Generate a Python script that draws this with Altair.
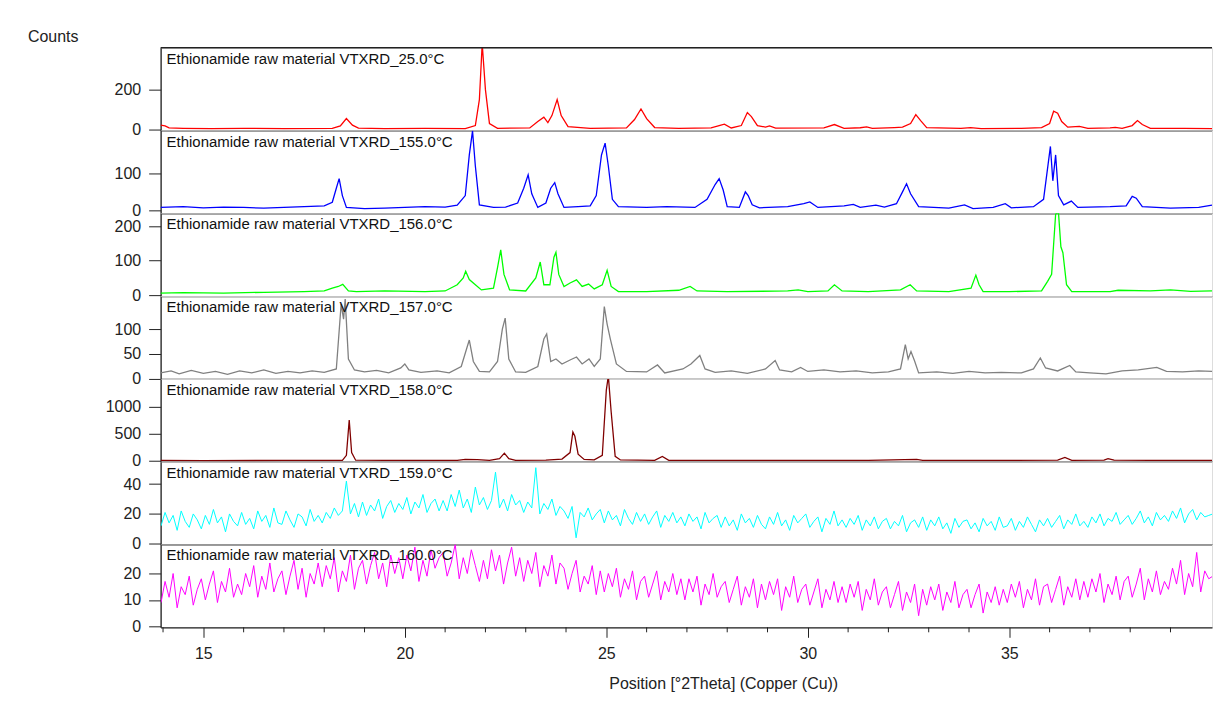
import altair as alt
import pandas as pd

# ---------------- data (2theta, counts) ----------------
red_25 = [(13.94, 22), (14.05, 18), (14.15, 8), (14.5, 6), (15.2, 5), (16.0, 6), (17.0, 5), (18.2, 6),
          (18.4, 18), (18.55, 55), (18.7, 22), (18.85, 7), (19.5, 5), (20.5, 6), (21.5, 5), (21.75, 20),
          (21.85, 150), (21.92, 430), (22.0, 200), (22.1, 30), (22.3, 6), (23.1, 8), (23.3, 40), (23.45, 62),
          (23.55, 35), (23.65, 70), (23.78, 150), (23.88, 70), (24.05, 15), (24.6, 6), (25.5, 8), (25.7, 50),
          (25.86, 103), (26.0, 55), (26.2, 10), (26.8, 6), (27.6, 8), (27.8, 20), (27.93, 27), (28.1, 8),
          (28.35, 20), (28.5, 85), (28.6, 65), (28.75, 20), (28.95, 12), (29.05, 18), (29.2, 7), (30.4, 8),
          (30.66, 25), (30.9, 6), (31.3, 9), (31.46, 13), (31.6, 6), (32.15, 10), (32.35, 12), (32.55, 30),
          (32.68, 75), (32.8, 45), (32.95, 10), (33.8, 6), (34.04, 10), (34.3, 5), (35.3, 6), (35.8, 10),
          (36.0, 30), (36.1, 92), (36.2, 82), (36.3, 40), (36.45, 12), (36.74, 16), (36.95, 6), (37.5, 8),
          (37.63, 11), (37.8, 6), (38.05, 20), (38.18, 45), (38.3, 25), (38.5, 6), (39.34, 6), (40.03, 5)]

blue_155 = [(13.94, 8), (14.5, 10), (15.0, 7), (15.5, 9), (16.0, 8), (16.5, 6), (17.0, 8), (17.5, 10),
            (18.0, 12), (18.2, 22), (18.3, 60), (18.37, 86), (18.45, 40), (18.55, 8), (19.0, 5), (19.5, 6),
            (20.0, 8), (20.5, 10), (21.0, 9), (21.3, 14), (21.5, 40), (21.6, 150), (21.68, 215), (21.75, 120),
            (21.85, 15), (22.2, 8), (22.5, 9), (22.8, 20), (22.95, 60), (23.06, 96), (23.15, 45), (23.3, 8),
            (23.5, 20), (23.62, 60), (23.72, 75), (23.8, 45), (23.95, 8), (24.3, 10), (24.6, 12), (24.75, 40),
            (24.88, 150), (24.97, 182), (25.05, 120), (25.15, 30), (25.3, 10), (26.0, 8), (26.5, 10), (27.2, 8),
            (27.5, 30), (27.7, 70), (27.8, 86), (27.9, 55), (28.0, 10), (28.3, 8), (28.45, 50), (28.52, 40),
            (28.62, 15), (28.8, 7), (29.5, 10), (29.9, 18), (30.05, 23), (30.25, 8), (30.9, 12), (31.13, 16),
            (31.3, 8), (31.69, 14), (31.9, 9), (32.2, 18), (32.35, 50), (32.45, 72), (32.55, 45), (32.75, 10),
            (33.5, 6), (33.89, 15), (34.1, 5), (34.6, 8), (34.9, 18), (35.05, 7), (35.6, 10), (35.85, 30),
            (36.02, 173), (36.08, 80), (36.15, 150), (36.22, 40), (36.35, 15), (36.54, 25), (36.7, 8), (37.5, 10),
            (37.9, 12), (38.05, 38), (38.15, 33), (38.3, 10), (39.0, 6), (39.7, 8), (40.03, 14)]

green_156 = [(13.94, 6), (14.5, 7), (15.5, 6), (16.5, 8), (17.5, 10), (18.0, 12), (18.2, 20), (18.35, 25),
             (18.46, 31), (18.6, 12), (18.8, 10), (19.5, 12), (20.5, 10), (21.0, 12), (21.3, 30), (21.45, 50),
             (21.51, 69), (21.6, 45), (21.75, 30), (21.9, 15), (22.2, 20), (22.3, 80), (22.38, 131), (22.46, 60),
             (22.6, 15), (23.0, 12), (23.25, 50), (23.36, 96), (23.45, 30), (23.6, 30), (23.7, 110), (23.75, 124),
             (23.82, 60), (23.95, 25), (24.1, 35), (24.26, 44), (24.4, 25), (24.56, 32), (24.7, 18), (24.9, 30),
             (25.02, 72), (25.12, 25), (25.3, 10), (26.0, 10), (26.8, 14), (27.08, 25), (27.25, 12), (28.0, 10),
             (29.5, 12), (29.76, 15), (30.0, 10), (30.5, 12), (30.66, 30), (30.85, 12), (31.5, 10), (32.3, 15),
             (32.54, 30), (32.7, 12), (33.5, 10), (34.05, 20), (34.17, 58), (34.25, 30), (34.35, 10), (35.0, 10),
             (35.8, 12), (35.95, 40), (36.05, 60), (36.15, 235), (36.22, 240), (36.28, 140), (36.33, 123),
             (36.42, 30), (36.55, 10), (37.5, 10), (37.7, 14), (38.5, 12), (39.0, 15), (39.5, 11), (40.03, 12)]

gray_157 = [(13.94, 12), (14.2, 16), (14.4, 10), (14.7, 17), (15.0, 11), (15.3, 15), (15.6, 9), (15.9, 16),
            (16.2, 12), (16.5, 18), (16.8, 11), (17.1, 15), (17.4, 12), (17.7, 16), (18.0, 13), (18.3, 20),
            (18.42, 150), (18.48, 120), (18.52, 160), (18.6, 40), (18.75, 18), (19.0, 14), (19.3, 17), (19.6, 12),
            (19.9, 22), (20.0, 30), (20.1, 18), (20.4, 13), (20.8, 16), (21.1, 12), (21.4, 25), (21.55, 65),
            (21.6, 78), (21.7, 35), (21.85, 15), (22.1, 14), (22.3, 35), (22.42, 100), (22.49, 122), (22.58, 40),
            (22.75, 14), (23.0, 13), (23.3, 25), (23.45, 80), (23.52, 90), (23.62, 35), (23.75, 40), (23.9, 30),
            (24.1, 38), (24.26, 44), (24.4, 30), (24.57, 40), (24.7, 25), (24.85, 40), (24.95, 145), (25.02, 110),
            (25.1, 80), (25.25, 30), (25.5, 15), (26.0, 14), (26.27, 28), (26.45, 12), (26.9, 20), (27.1, 30),
            (27.32, 47), (27.45, 20), (27.7, 13), (28.1, 16), (28.5, 11), (28.95, 20), (29.19, 37), (29.3, 18),
            (29.6, 14), (29.82, 23), (30.0, 15), (30.4, 18), (30.8, 14), (31.2, 16), (31.6, 12), (32.0, 14),
            (32.3, 20), (32.42, 69), (32.49, 40), (32.56, 55), (32.65, 36), (32.75, 12), (33.2, 14), (33.6, 11),
            (34.0, 15), (34.4, 12), (34.8, 13), (35.3, 12), (35.6, 20), (35.77, 42), (35.9, 22), (36.2, 16),
            (36.5, 27), (36.65, 14), (37.0, 12), (37.4, 10), (37.8, 16), (38.2, 18), (38.66, 23), (38.9, 15),
            (39.3, 14), (39.7, 16), (40.03, 15)]

darkred_158 = [(13.94, 5), (15.0, 4), (17.0, 5), (18.45, 5), (18.55, 100), (18.62, 750), (18.68, 150),
               (18.78, 10), (19.5, 5), (20.5, 6), (21.3, 8), (21.5, 25), (21.8, 20), (22.1, 8), (22.35, 40),
               (22.47, 140), (22.58, 40), (22.75, 8), (23.5, 10), (23.9, 30), (24.1, 150), (24.17, 530),
               (24.22, 450), (24.3, 120), (24.45, 25), (24.7, 15), (24.9, 100), (25.0, 1300), (25.05, 1560),
               (25.12, 900), (25.22, 80), (25.35, 15), (26.2, 8), (26.39, 80), (26.55, 8), (27.5, 6), (29.0, 5),
               (31.5, 6), (32.7, 25), (32.85, 5), (34.0, 6), (36.2, 10), (36.38, 60), (36.55, 8), (37.35, 12),
               (37.45, 40), (37.6, 10), (38.5, 5), (40.03, 5)]

# noisy scans: regular 2theta grid (start, step) and counts
scan_start = 13.95
scan_step = 0.1
cyan_159 = [12, 21, 14, 19, 9, 22, 15, 11, 20, 16,
            10, 19, 13, 23, 14, 18, 8, 20, 15, 12,
            21, 13, 17, 10, 22, 15, 19, 11, 24, 14,
            13, 22, 16, 11, 20, 18, 12, 23, 15, 19,
            14, 21, 17, 24, 19, 22, 42, 20, 27, 18,
            28, 19, 26, 22, 30, 17, 25, 29, 21, 27,
            23, 31, 20, 28, 24, 33, 21, 27, 30, 22,
            29, 22, 33, 25, 36, 24, 30, 21, 38, 26,
            31, 23, 29, 48, 24, 30, 22, 33, 26, 29,
            21, 28, 24, 51, 20, 27, 23, 30, 19, 25,
            22, 17, 25, 4, 21, 18, 24, 16, 20, 23,
            14, 22, 16, 19, 12, 23, 17, 13, 21, 15,
            20, 13, 18, 22, 11, 19, 15, 21, 14, 18,
            12, 20, 15, 18, 10, 21, 14, 17, 19, 11,
            18, 12, 16, 9, 20, 14, 17, 11, 19, 13,
            10, 18, 13, 21, 12, 16, 9, 19, 14, 17,
            20, 11, 15, 18, 8, 17, 13, 22, 12, 16,
            11, 17, 13, 19, 9, 16, 12, 18, 10, 15,
            17, 10, 15, 12, 19, 8, 14, 16, 11, 18,
            9, 16, 12, 18, 10, 14, 7, 17, 11, 15,
            16, 10, 14, 8, 17, 12, 15, 9, 18, 11,
            12, 17, 9, 15, 11, 18, 13, 8, 16, 12,
            17, 11, 15, 19, 10, 16, 13, 20, 12, 15,
            11, 18, 14, 20, 12, 17, 15, 21, 13, 16,
            19, 13, 17, 22, 14, 18, 12, 21, 16, 19,
            15, 22, 17, 24, 14, 20, 23, 16, 21, 18,
            19, 20]
magenta_160 = [9, 17, 11, 20, 7, 15, 12, 19, 8, 14,
               18, 10, 16, 21, 9, 17, 13, 22, 11, 16,
               12, 20, 15, 23, 11, 19, 14, 24, 13, 18,
               21, 12, 19, 25, 14, 22, 11, 20, 16, 24,
               15, 23, 18, 26, 13, 21, 17, 27, 14, 22,
               25, 16, 23, 28, 18, 24, 15, 27, 20, 26,
               18, 27, 21, 30, 17, 25, 19, 29, 22, 26,
               28, 19, 24, 31, 18, 26, 20, 29, 23, 17,
               25, 18, 29, 21, 27, 16, 24, 30, 19, 26,
               17, 25, 20, 28, 15, 23, 19, 27, 16, 24,
               22, 14, 20, 25, 13, 19, 16, 23, 12, 21,
               13, 20, 15, 22, 11, 18, 14, 21, 10, 17,
               19, 11, 16, 21, 10, 17, 13, 20, 12, 18,
               10, 18, 13, 19, 8, 16, 12, 20, 11, 15,
               17, 9, 14, 19, 8, 15, 11, 18, 7, 16,
               10, 17, 12, 18, 6, 15, 11, 19, 9, 14,
               16, 8, 13, 18, 7, 14, 10, 17, 9, 15,
               9, 16, 11, 17, 6, 14, 10, 18, 8, 13,
               15, 7, 12, 17, 6, 13, 9, 16, 4, 14,
               8, 15, 10, 16, 6, 13, 9, 17, 7, 12,
               14, 7, 12, 16, 5, 13, 9, 15, 8, 14,
               9, 16, 11, 17, 7, 14, 10, 18, 8, 15,
               16, 9, 14, 19, 8, 15, 11, 18, 10, 17,
               11, 18, 13, 20, 9, 16, 12, 19, 10, 17,
               19, 11, 16, 22, 10, 18, 13, 21, 12, 17,
               14, 22, 16, 25, 12, 20, 15, 28, 13, 21,
               18, 19]

titles = ["Ethionamide raw material VTXRD_25.0°C", "Ethionamide raw material VTXRD_155.0°C",
          "Ethionamide raw material VTXRD_156.0°C", "Ethionamide raw material VTXRD_157.0°C",
          "Ethionamide raw material VTXRD_158.0°C", "Ethionamide raw material VTXRD_159.0°C",
          "Ethionamide raw material VTXRD_160.0°C"]
colors = ["#ff0000", "#0000ff", "#00ff00", "#808080", "#800000", "#00ffff", "#ff00ff"]
y_domains = [[-5, 410], [-8, 216], [-3, 237], [0, 166], [-18, 1505], [-0.5, 55], [-0.4, 31]]
y_ticks = [[0, 200], [0, 100], [0, 100, 200], [0, 50, 100], [0, 500, 1000], [0, 20, 40], [0, 10, 20]]
x_major = [15, 20, 25, 30, 35]
x_minor = [14, 16, 17, 18, 19, 21, 22, 23, 24, 26, 27, 28, 29, 31, 32, 33, 34, 36, 37, 38, 39]

X_MIN, X_MAX = 13.94, 40.03
W, H = 1054, 83
FONT = "Liberation Sans"
INK = "#222222"


def pts_df(pts):
    return pd.DataFrame({"theta": [p[0] for p in pts], "counts": [p[1] for p in pts]})


def scan_df(vals):
    return pd.DataFrame({"theta": [round(scan_start + i * scan_step, 3) for i in range(len(vals))],
                         "counts": vals})


frames = [pts_df(red_25), pts_df(blue_155), pts_df(green_156), pts_df(gray_157),
          pts_df(darkred_158), scan_df(cyan_159), scan_df(magenta_160)]

xscale = alt.Scale(domain=[X_MIN, X_MAX], nice=False, zero=False)


def make_panel(i):
    last = i == len(frames) - 1
    first = i == 0
    if last:
        xaxis = alt.Axis(values=x_major, tickSize=10, labelPadding=8, labelFontSize=16, labelFont=FONT,
                         labelColor=INK, tickColor=INK, domainColor=INK, domainWidth=1.3, grid=False,
                         title="Position [°2Theta] (Copper (Cu))", titleFont=FONT, titleFontSize=16,
                         titleFontWeight="normal", titleColor=INK, titleX=564, titleY=48, titleBaseline="top",
                         labelFlush=False)
    else:
        xaxis = alt.Axis(labels=False, ticks=False, title=None, grid=False, domainColor=INK, domainWidth=1.3)
    yaxis = alt.Axis(values=y_ticks[i], format="d", title=None, grid=False, tickSize=12, labelPadding=8,
                     labelFontSize=16, labelFont=FONT, labelColor=INK, tickColor=INK, domainColor=INK,
                     domainWidth=1.3)
    line = alt.Chart(frames[i]).mark_line(color=colors[i], strokeWidth=1.0 if i >= 5 else 1.3, clip=True).encode(
        x=alt.X("theta:Q", scale=xscale, axis=xaxis),
        y=alt.Y("counts:Q", scale=alt.Scale(domain=y_domains[i], nice=False, zero=False), axis=yaxis),
    )
    label = alt.Chart(pd.DataFrame({"t": [titles[i]]})).mark_text(
        align="left", baseline="middle", fontSize=15, font=FONT, color="#111111"
    ).encode(text="t:N", x=alt.value(6), y=alt.value(11))
    layers = [line, label]
    if first:
        top = alt.Chart(pd.DataFrame({"a": [0]})).mark_rule(color=INK, strokeWidth=1.3).encode(
            x=alt.value(0), x2=alt.value(W), y=alt.value(0))
        counts = alt.Chart(pd.DataFrame({"t": ["Counts"]})).mark_text(
            align="left", baseline="middle", fontSize=16, font=FONT, color=INK
        ).encode(text="t:N", x=alt.value(-133), y=alt.value(-11))
        layers += [top, counts]
    if last:
        minor = alt.Chart(pd.DataFrame({"m": x_minor})).mark_rule(color=INK, strokeWidth=1).encode(
            x=alt.X("m:Q", scale=xscale, axis=xaxis), y=alt.value(H), y2=alt.value(H + 5))
        layers.append(minor)
    return alt.layer(*layers).properties(width=W, height=H)


chart = alt.vconcat(*[make_panel(i) for i in range(len(frames))], spacing=0, bounds="flush").properties(
    padding={"left": 19, "top": 19, "right": 0, "bottom": 0}
).configure_view(stroke=None).configure(background="white")

chart.save("out.html", embed_options={"renderer": "svg", "actions": False})
